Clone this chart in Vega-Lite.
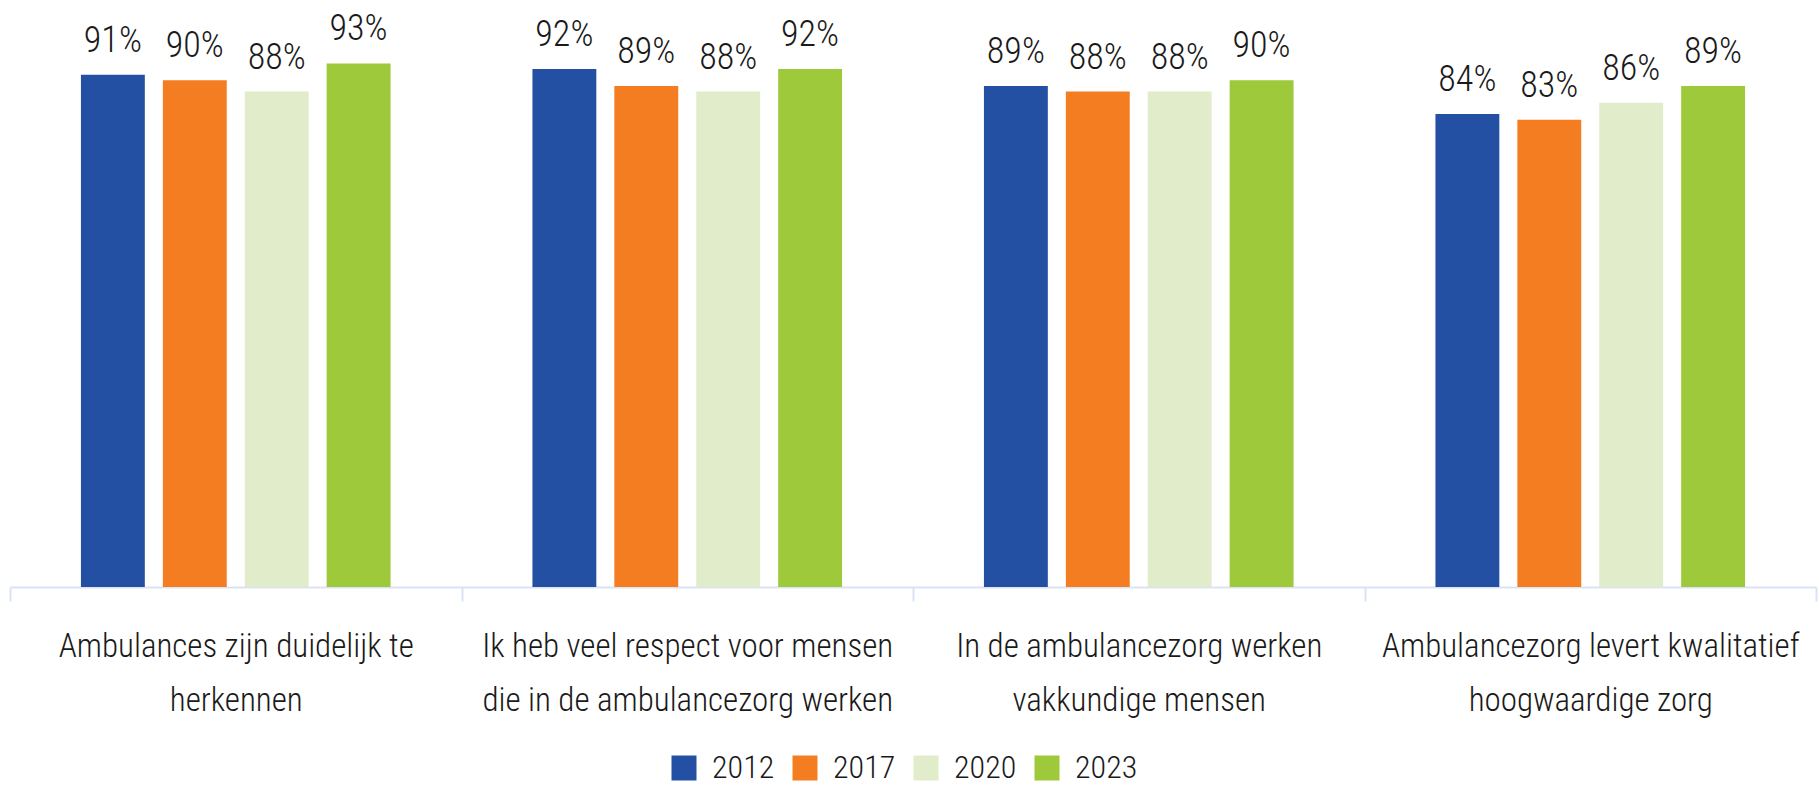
{
  "$schema": "https://vega.github.io/schema/vega-lite/v6.json",
  "width": 1806,
  "height": 563,
  "autosize": {"type": "none"},
  "padding": {"left": 10, "top": 24, "right": 3, "bottom": 204},
  "background": "white",
  "config": {
    "view": {"stroke": null},
    "font": "Roboto Condensed, Roboto, sans-serif"
  },
  "data": {
    "values": [
      {"stelling": "Ambulances zijn duidelijk te herkennen", "jaar": "2012", "pct": 0.91},
      {"stelling": "Ambulances zijn duidelijk te herkennen", "jaar": "2017", "pct": 0.90},
      {"stelling": "Ambulances zijn duidelijk te herkennen", "jaar": "2020", "pct": 0.88},
      {"stelling": "Ambulances zijn duidelijk te herkennen", "jaar": "2023", "pct": 0.93},
      {"stelling": "Ik heb veel respect voor mensen die in de ambulancezorg werken", "jaar": "2012", "pct": 0.92},
      {"stelling": "Ik heb veel respect voor mensen die in de ambulancezorg werken", "jaar": "2017", "pct": 0.89},
      {"stelling": "Ik heb veel respect voor mensen die in de ambulancezorg werken", "jaar": "2020", "pct": 0.88},
      {"stelling": "Ik heb veel respect voor mensen die in de ambulancezorg werken", "jaar": "2023", "pct": 0.92},
      {"stelling": "In de ambulancezorg werken vakkundige mensen", "jaar": "2012", "pct": 0.89},
      {"stelling": "In de ambulancezorg werken vakkundige mensen", "jaar": "2017", "pct": 0.88},
      {"stelling": "In de ambulancezorg werken vakkundige mensen", "jaar": "2020", "pct": 0.88},
      {"stelling": "In de ambulancezorg werken vakkundige mensen", "jaar": "2023", "pct": 0.90},
      {"stelling": "Ambulancezorg levert kwalitatief hoogwaardige zorg", "jaar": "2012", "pct": 0.84},
      {"stelling": "Ambulancezorg levert kwalitatief hoogwaardige zorg", "jaar": "2017", "pct": 0.83},
      {"stelling": "Ambulancezorg levert kwalitatief hoogwaardige zorg", "jaar": "2020", "pct": 0.86},
      {"stelling": "Ambulancezorg levert kwalitatief hoogwaardige zorg", "jaar": "2023", "pct": 0.89}
    ]
  },
  "encoding": {
    "x": {
      "field": "stelling",
      "type": "nominal",
      "sort": null,
      "scale": {"paddingInner": 0, "paddingOuter": 0},
      "axis": {
        "title": null,
        "labelAngle": 0,
        "labelFontSize": 33,
        "labelFontWeight": 300,
        "labelColor": "#1a1a1a",
        "labelPadding": 55,
        "labelLineHeight": 54,
        "labelLimit": 0,
        "labelBaseline": "alphabetic",
        "tickBand": "extent",
        "tickSize": 14,
        "tickWidth": 2,
        "tickColor": "#d9e3f5",
        "domainColor": "#d9e3f5",
        "domainWidth": 2,
        "labelExpr": "datum.value == 'Ambulances zijn duidelijk te herkennen' ? ['Ambulances zijn duidelijk te', 'herkennen'] : datum.value == 'Ik heb veel respect voor mensen die in de ambulancezorg werken' ? ['Ik heb veel respect voor mensen', 'die in de ambulancezorg werken'] : datum.value == 'In de ambulancezorg werken vakkundige mensen' ? ['In de ambulancezorg werken', 'vakkundige mensen'] : datum.value == 'Ambulancezorg levert kwalitatief hoogwaardige zorg' ? ['Ambulancezorg levert kwalitatief', 'hoogwaardige zorg'] : ''"
      }
    },
    "xOffset": {
      "field": "jaar",
      "type": "nominal",
      "scale": {"paddingInner": 0.22, "paddingOuter": 0.866}
    },
    "y": {
      "field": "pct",
      "type": "quantitative",
      "scale": {"domain": [0, 1]},
      "axis": null
    }
  },
  "layer": [
    {
      "mark": {"type": "bar"},
      "encoding": {
        "color": {
          "field": "jaar",
          "type": "nominal",
          "scale": {
            "domain": ["2012", "2017", "2020", "2023"],
            "range": ["#2450a3", "#f47c21", "#e1edca", "#9dc93b"]
          },
          "legend": {
            "title": null,
            "orient": "none",
            "direction": "horizontal",
            "legendX": 658,
            "legendY": 728,
            "symbolType": "square",
            "symbolSize": 625,
            "symbolStrokeWidth": 0,
            "labelFontSize": 32,
            "labelFontWeight": 300,
            "labelColor": "#1a1a1a",
            "labelOffset": 12,
            "columnPadding": 14
          }
        }
      }
    },
    {
      "mark": {"type": "text", "baseline": "alphabetic", "dy": -23, "fontSize": 36, "fontWeight": 300, "color": "#1a1a1a"},
      "encoding": {
        "text": {"field": "pct", "type": "quantitative", "format": ".0%"},
        "detail": {"field": "jaar"}
      }
    }
  ]
}
